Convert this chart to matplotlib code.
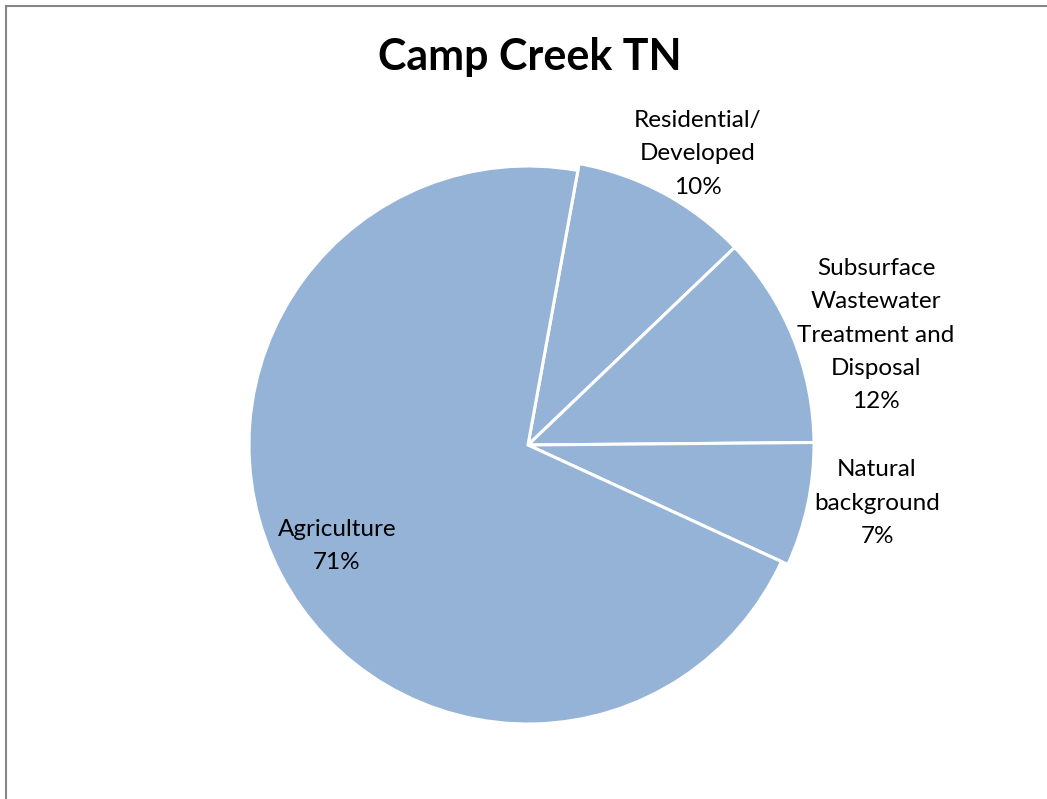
import matplotlib
matplotlib.use("Agg")
import matplotlib.pyplot as plt
from matplotlib.patches import Rectangle

# Sources of total nitrogen load, Camp Creek
categories = ["Residential/\nDeveloped", "Subsurface\nWastewater\nTreatment and\nDisposal",
              "Natural\nbackground", "Agriculture"]
shares = [10, 12, 7, 71]
title = "Camp Creek TN"

W, H = 1047, 799
fig = plt.figure(figsize=(W / 100, H / 100), dpi=100)
ax = fig.add_axes([0, 0, 1, 1])

cx, cy, R = 528, 354, 286
explode = [0, 0, 0, 4 / R]
wedges, _ = ax.pie(shares, explode=explode, startangle=79.7, counterclock=False,
                   colors=["#95B3D7"] * len(shares), center=(cx, cy), radius=R,
                   wedgeprops=dict(edgecolor="white", linewidth=2.2), frame=True)
# the agriculture wedge sits slightly inside the others
wedges[3].set_radius(R - 7)

ax.set_xlim(0, W)
ax.set_ylim(0, H)
ax.set_aspect("equal")
ax.axis("off")

label_pos = [(698, 645), (876, 464), (877, 296), (337, 253)]
for name, val, (x, y) in zip(categories, shares, label_pos):
    ax.text(x, y, f"{name}\n{val}%", ha="center", va="center", fontsize=17.5,
            family="Lato", linespacing=1.73, color="black")

fig.text(530 / W, 1 - 57 / H, title, ha="center", va="center", fontsize=31,
         family="Lato", fontweight="bold")

fig.add_artist(Rectangle((6 / W, -0.02), 1.05, 1 - 6 / H + 0.02, transform=fig.transFigure,
                         fill=False, edgecolor="#868686", linewidth=1.5))

fig.savefig("out.png", dpi=100)
